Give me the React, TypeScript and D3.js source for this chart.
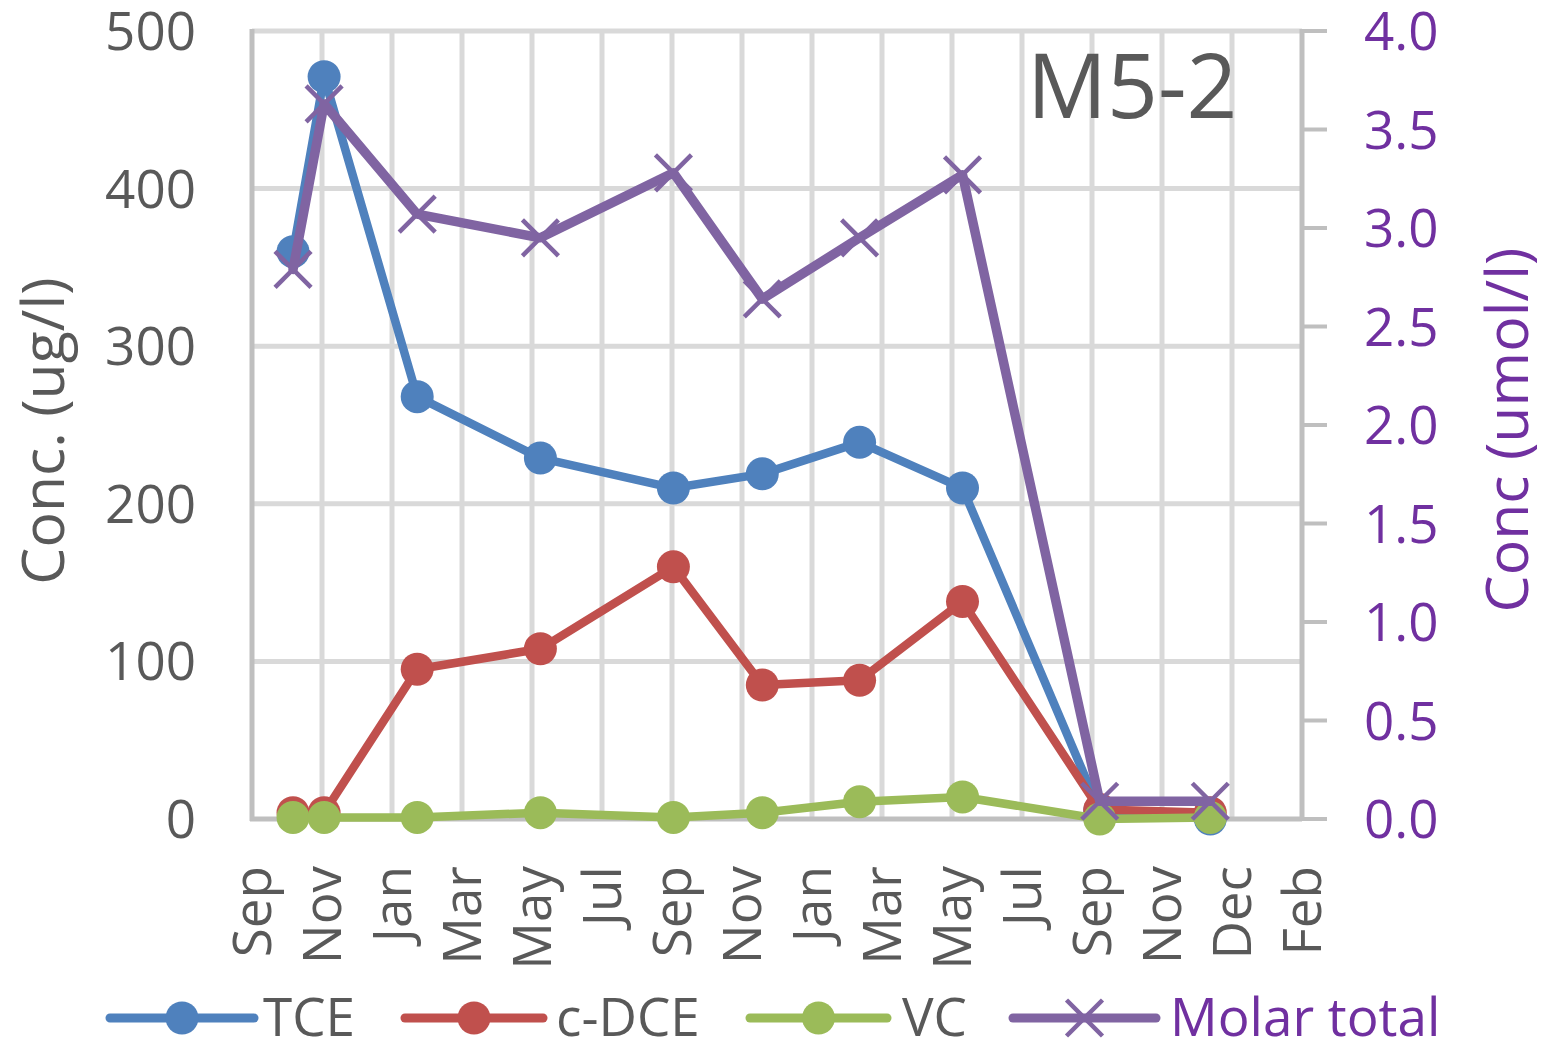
import React from "react";
import * as d3 from "d3";

// ---- data ----
const xTickLabels = ["Sep", "Nov", "Jan", "Mar", "May", "Jul", "Sep", "Nov", "Jan", "Mar", "May", "Jul", "Sep", "Nov", "Dec", "Feb"];
// sample positions, in axis-tick units (0 = first "Sep" tick)
const samplePos = [0.586, 1.03, 2.36, 4.12, 6.02, 7.29, 8.68, 10.15, 12.11, 13.69];
const tce = [360, 471, 268, 229, 210, 219, 239, 210, 5, 0];
const cdce = [4, 4, 95, 108, 160, 85, 88, 138, 6, 4];
const vc = [1, 1, 1, 4, 1, 4, 11, 14, 0, 1];
const molarTotal = [2.79, 3.63, 3.07, 2.95, 3.28, 2.64, 2.95, 3.27, 0.09, 0.09];
const leftTicks = [0, 100, 200, 300, 400, 500];
const rightTicks = [0, 0.5, 1.0, 1.5, 2.0, 2.5, 3.0, 3.5, 4.0];
const seriesNames = ["TCE", "c-DCE", "VC", "Molar total"];

const COLORS = { tce: "#4F81BD", cdce: "#C0504D", vc: "#9BBB59", molar: "#8064A2" };
const TEXT = "#595959";
const PURPLE = "#7030A0";
const GRID = "#D9D9D9";
const AXIS = "#BFBFBF";
const FONT = "'Open Sans', 'Noto Sans', sans-serif";

export default function App() {
  const W = 1547, H = 1040;
  const left = 252, right = 1302, top = 31, bottom = 819;
  const x = d3.scaleLinear().domain([0, xTickLabels.length - 1]).range([left, right]);
  const yL = d3.scaleLinear().domain([0, 500]).range([bottom, top]);
  const yR = d3.scaleLinear().domain([0, 4]).range([bottom, top]);

  const mk = (vals: number[], y: d3.ScaleLinear<number, number>) =>
    vals.map((v, i) => [x(samplePos[i]), y(v)] as [number, number]);
  const line = d3.line<[number, number]>();

  const tceP = mk(tce, yL);
  const cdceP = mk(cdce, yL);
  const vcP = mk(vc, yL);
  const molP = mk(molarTotal, yR);

  const circleSeries = [
    { pts: tceP, color: COLORS.tce },
    { pts: cdceP, color: COLORS.cdce },
    { pts: vcP, color: COLORS.vc },
  ];

  const xMark = (cx: number, cy: number, s: number, key: string, color: string) => (
    <g key={key} stroke={color} strokeWidth={4.5}>
      <line x1={cx - s} y1={cy - s} x2={cx + s} y2={cy + s} />
      <line x1={cx - s} y1={cy + s} x2={cx + s} y2={cy - s} />
    </g>
  );

  const legendItems = [
    { name: seriesNames[0], color: COLORS.tce, x1: 110, x2: 254, tx: 263, marker: "circle", tc: TEXT },
    { name: seriesNames[1], color: COLORS.cdce, x1: 405, x2: 543, tx: 556, marker: "circle", tc: TEXT },
    { name: seriesNames[2], color: COLORS.vc, x1: 750, x2: 887, tx: 902, marker: "circle", tc: TEXT },
    { name: seriesNames[3], color: COLORS.molar, x1: 1013, x2: 1156, tx: 1170, marker: "x", tc: PURPLE },
  ];
  const legY = 1018;

  return (
    <svg width={W} height={H} style={{ position: "absolute", left: 0, top: 0, background: "#fff" }} fontFamily={FONT}>
      <rect x={0} y={0} width={W} height={H} fill="#fff" />
      {/* horizontal gridlines */}
      {leftTicks.filter((t) => t > 0).map((t) => (
        <line key={"hg" + t} x1={left} x2={right} y1={yL(t)} y2={yL(t)} stroke={GRID} strokeWidth={5} />
      ))}
      {/* vertical gridlines */}
      {xTickLabels.map((_, i) =>
        i > 0 && i < xTickLabels.length - 1 ? (
          <line key={"vg" + i} x1={x(i)} x2={x(i)} y1={top} y2={bottom} stroke={GRID} strokeWidth={5} />
        ) : null
      )}
      {/* axes */}
      <line x1={left} x2={left} y1={top - 2} y2={bottom + 2} stroke={AXIS} strokeWidth={5} />
      <line x1={left - 2} x2={right} y1={bottom} y2={bottom} stroke={AXIS} strokeWidth={5} />
      <line x1={right} x2={right} y1={top - 2} y2={bottom + 2} stroke={AXIS} strokeWidth={5} />
      {rightTicks.map((t) => (
        <line key={"rt" + t} x1={right} x2={right + 25} y1={yR(t)} y2={yR(t)} stroke={AXIS} strokeWidth={4} />
      ))}

      {/* left tick labels */}
      {leftTicks.map((t) => (
        <text key={"lt" + t} x={196} y={yL(t) + 19} textAnchor="end" fontSize={53} fill={TEXT}>
          {t}
        </text>
      ))}
      {/* right tick labels */}
      {rightTicks.map((t) => (
        <text key={"rl" + t} x={1364} y={yR(t) + 19} textAnchor="start" fontSize={53} fill={PURPLE}>
          {t.toFixed(1)}
        </text>
      ))}
      {/* x tick labels */}
      {xTickLabels.map((lab, i) => (
        <text
          key={"xl" + i}
          transform={`translate(${x(i) + 19},866) rotate(-90)`}
          textAnchor="end"
          fontSize={53}
          fill={TEXT}
        >
          {lab}
        </text>
      ))}
      {/* axis titles */}
      <text transform="translate(64,431) rotate(-90)" textAnchor="middle" fontSize={59} fill={TEXT}>
        Conc. (ug/l)
      </text>
      <text transform="translate(1528,430) rotate(-90)" textAnchor="middle" fontSize={59} fill={PURPLE}>
        Conc (umol/l)
      </text>
      {/* panel label */}
      <text x={1027} y={118} fontSize={89} fill={TEXT}>
        M5-2
      </text>

      {/* series with circle markers */}
      {circleSeries.map((s, si) => (
        <g key={"s" + si}>
          <path d={line(s.pts) || ""} fill="none" stroke={s.color} strokeWidth={8.5} strokeLinejoin="round" strokeLinecap="round" />
          {s.pts.map((p, i) => (
            <circle key={i} cx={p[0]} cy={p[1]} r={16.5} fill={s.color} />
          ))}
        </g>
      ))}
      {/* molar total on secondary axis */}
      <g>
        <path d={line(molP) || ""} fill="none" stroke={COLORS.molar} strokeWidth={9.5} strokeLinejoin="round" strokeLinecap="round" />
        {molP.map((p, i) => xMark(p[0], p[1], 18, "mx" + i, COLORS.molar))}
      </g>

      {/* legend */}
      {legendItems.map((it) => (
        <g key={"lg" + it.name}>
          <line x1={it.x1} x2={it.x2} y1={legY} y2={legY} stroke={it.color} strokeWidth={9} strokeLinecap="round" />
          {it.marker === "circle" ? (
            <circle cx={(it.x1 + it.x2) / 2} cy={legY} r={16.5} fill={it.color} />
          ) : (
            xMark((it.x1 + it.x2) / 2, legY, 18, "lx", it.color)
          )}
          <text x={it.tx} y={legY + 18} fontSize={53} fill={it.tc}>
            {it.name}
          </text>
        </g>
      ))}
    </svg>
  );
}
